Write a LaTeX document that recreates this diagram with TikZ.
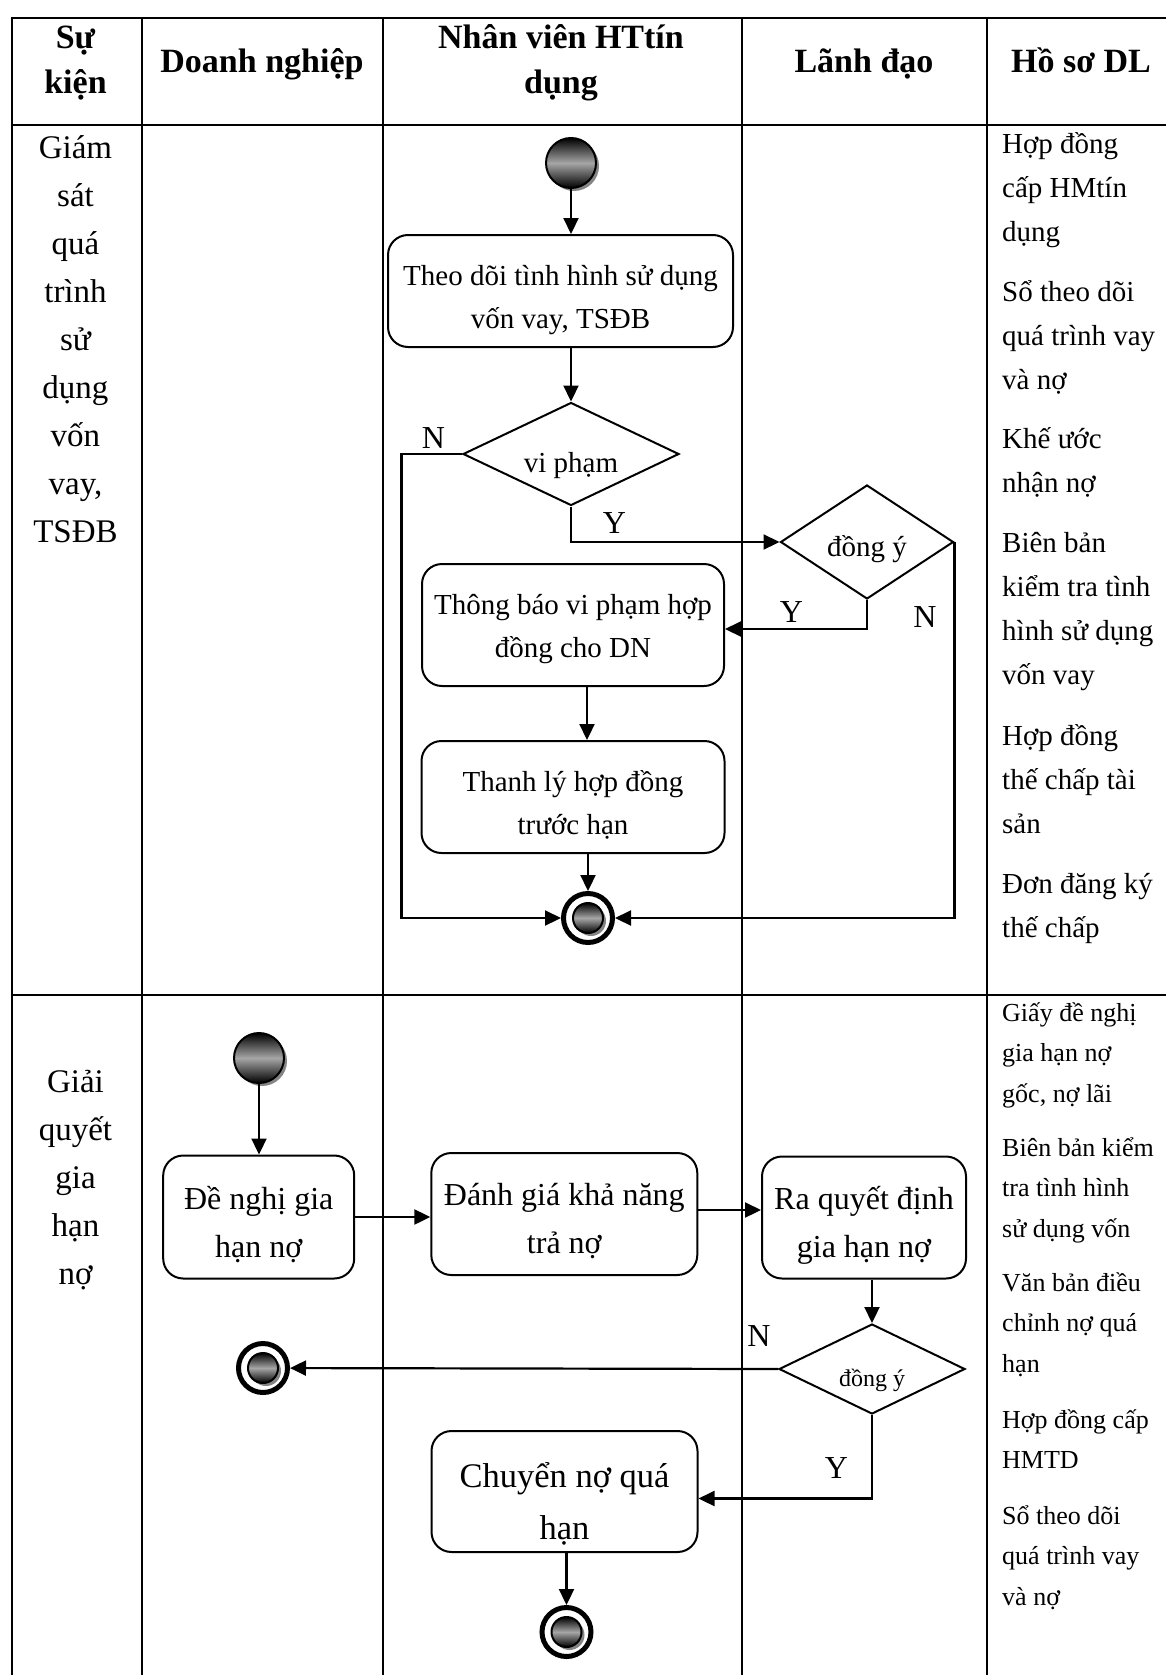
\documentclass[tikz,border=0pt]{standalone}
\usepackage{fontspec}
\setmainfont{Liberation Serif}
\usetikzlibrary{arrows.meta, positioning, shapes.geometric, shadows}

\tikzset{
  tbl/.style={line width=2pt, line cap=rect},
  head/.style={font=\bfseries\fontsize{34}{45}\selectfont, align=center, anchor=base, inner sep=0pt},
  event/.style={font=\fontsize{33}{48}\selectfont, align=center, anchor=base, inner sep=0pt},
  docA/.style={font=\fontsize{29}{44}\selectfont, align=left, anchor=base west, inner sep=0pt},
  docB/.style={font=\fontsize{26}{40.5}\selectfont, align=left, anchor=base west, inner sep=0pt},
  act/.style={draw, line width=2pt, rounded corners=20pt, align=center, inner sep=0pt,
    text depth=0pt, text height=#1},
  act/.default=74pt,
  decide/.style={diamond, draw, line width=2pt, aspect=2, inner sep=0pt, text depth=0pt},
  ball/.style={circle, draw, line width=2pt, inner sep=0pt, minimum size=50pt,
    top color=black, bottom color=black, middle color=gray!70,
    drop shadow={shadow xshift=3pt, shadow yshift=-3pt, fill=black!60, opacity=0.8}},
  endring/.style={circle, draw, line width=5pt, inner sep=0pt, minimum size=49pt, fill=white},
  flow/.style={line width=2.2pt, -{Triangle[length=16pt, width=15pt]}},
  yn/.style={font=\fontsize{32}{32}\selectfont, inner sep=0pt}
}

\begin{document}
\begin{tikzpicture}[x=1pt, y=-1pt]
  \useasboundingbox (0,0) rectangle (1166,1675);
  % table grid
  \draw[tbl] (12,18) -- (1166,18);
  \draw[tbl] (12,125) -- (1166,125);
  \draw[tbl] (12,995) -- (1166,995);
  \foreach \x in {12,142,383,742,987}
    \draw[tbl] (\x,18) -- (\x,1680);

  % headers (base = last line)
  \node[head] (hEvent) at (75.5,94) {Sự\\kiện};
  \node[head] (hFirm) at (262,73) {Doanh nghiệp};
  \node[head] (hStaff) at (561,94) {Nhân viên HTtín\\dụng};
  \node[head] (hBoss) at (864,73) {Lãnh đạo};
  \node[head] (hDocs) at (1081,73) {Hồ sơ DL};

  % events
  \node[event] (ev1) at (75.5,542) {Giám\\sát\\quá\\trình\\sử\\dụng\\vốn\\vay,\\TSĐB};
  \node[event] (ev2) at (75.5,1284) {Giải\\quyết\\gia\\hạn\\nợ};

  % documents
  \node[docA] (docA1) at (1002,241) {Hợp đồng\\cấp HMtín\\dụng};
  \node[docA] (docA2) at (1002,389) {Sổ theo dõi\\quá trình vay\\và nợ};
  \node[docA] (docA3) at (1002,492) {Khế ước\\nhận nợ};
  \node[docA] (docA4) at (1002,684) {Biên bản\\kiểm tra tình\\hình sử dụng\\vốn vay};
  \node[docA] (docA5) at (1002,833) {Hợp đồng\\thế chấp tài\\sản};
  \node[docA] (docA6) at (1002,937) {Đơn đăng ký\\thế chấp};
  \node[docB] (docB1) at (1002,1102) {Giấy đề nghị\\gia hạn nợ\\gốc, nợ lãi};
  \node[docB] (docB2) at (1002,1237) {Biên bản kiểm\\tra tình hình\\sử dụng vốn};
  \node[docB] (docB3) at (1002,1372) {Văn bản điều\\chỉnh nợ quá\\hạn};
  \node[docB] (docB4) at (1002,1468.5) {Hợp đồng cấp\\HMTD};
  \node[docB] (docB5) at (1002,1605) {Sổ theo dõi\\quá trình vay\\và nợ};

  % monitoring
  \node[ball] (start1) at (571,163) {};
  \node[act, font=\fontsize{29}{43}\selectfont, minimum width=345pt, minimum height=112pt]
    (watch) at (560.5,291) {Theo dõi tình hình sử dụng\\vốn vay, TSĐB};
  \node[decide, font=\fontsize{29}{29}\selectfont, text height=36pt,
    minimum width=216pt, minimum height=103pt] (breach) at (571,454) {vi phạm};
  \node[decide, font=\fontsize{29}{29}\selectfont, text height=29pt,
    minimum width=173pt, minimum height=114pt] (agree1) at (867,542) {đồng ý};
  \node[act=64pt, font=\fontsize{29}{43}\selectfont, minimum width=302pt, minimum height=122pt]
    (notify) at (573,625) {Thông báo vi phạm hợp\\đồng cho DN};
  \node[act=74pt, font=\fontsize{29}{43}\selectfont, minimum width=303pt, minimum height=112pt]
    (settle) at (573,797) {Thanh lý hợp đồng\\trước hạn};
  \node[endring] (end1) at (588,918) {};
  \node[ball, minimum size=30pt] (end1c) at (end1) {};
  \coordinate (nTurn) at (401.5,454);

  \draw[flow] (start1) -- (start1 |- watch.north);
  \draw[flow] (watch.south -| breach.north) -- (breach.north);
  \draw[flow] (breach.west) -- (nTurn) |- (end1);
  \draw[flow] (breach.south) |- (agree1.west);
  \draw[flow] (agree1.south) |- ([yshift=-4pt]notify.east);
  \draw[flow] (agree1.east) |- (end1);
  \draw[flow] ([xshift=14pt]notify.south) -- ([xshift=14pt]settle.north);
  \draw[flow] (settle.south -| end1) -- (end1);

  \node[yn] (n1) at (433.5,438) {N};
  \node[yn] (y1) at (614.5,523) {Y};
  \node[yn] (y2) at (791.5,612) {Y};
  \node[yn] (n2) at (925,617) {N};

  % extension
  \node[ball] (start2) at (259,1058) {};
  \node[act=81pt, font=\fontsize{32}{48}\selectfont, minimum width=191pt, minimum height=123pt]
    (propose) at (258.7,1217) {Đề nghị gia\\hạn nợ};
  \node[act=79pt, font=\fontsize{32}{48}\selectfont, minimum width=266pt, minimum height=122pt]
    (assess) at (564.3,1214) {Đánh giá khả năng\\trả nợ};
  \node[act=80pt, font=\fontsize{32}{48}\selectfont, minimum width=204pt, minimum height=122pt]
    (decree) at (864,1217.5) {Ra quyết định\\gia hạn nợ};
  \node[decide, font=\fontsize{24}{24}\selectfont, text height=35pt,
    minimum width=186pt, minimum height=90pt] (agree2) at (872,1369) {đồng ý};
  \node[act=95pt, font=\fontsize{34.5}{52}\selectfont, minimum width=266pt, minimum height=121pt]
    (overdue) at (564.5,1491.5) {Chuyển nợ quá\\hạn};
  \node[endring] (end2) at (263,1368) {};
  \node[ball, minimum size=30pt] (end2c) at (end2) {};
  \node[endring] (end3) at (566.5,1632) {};
  \node[ball, minimum size=30pt] (end3c) at (end3) {};

  \draw[flow] (start2) -- (start2 |- propose.north);
  \draw[flow] (propose.east) -- (propose.east -| assess.west);
  \draw[flow] ([yshift=4pt]assess.east) -- ([yshift=4pt]assess.east -| decree.west);
  \draw[flow] (decree.south -| agree2.north) -- (agree2.north);
  \draw[flow] (agree2.west) -- (end2);
  \draw[flow] (agree2.south) |- ([yshift=-7pt]overdue.east);
  \draw[flow] (overdue.south -| end3) -- (end3);

  \node[yn] (n3) at (759,1336) {N};
  \node[yn] (y3) at (836.5,1468) {Y};
\end{tikzpicture}
\end{document}
